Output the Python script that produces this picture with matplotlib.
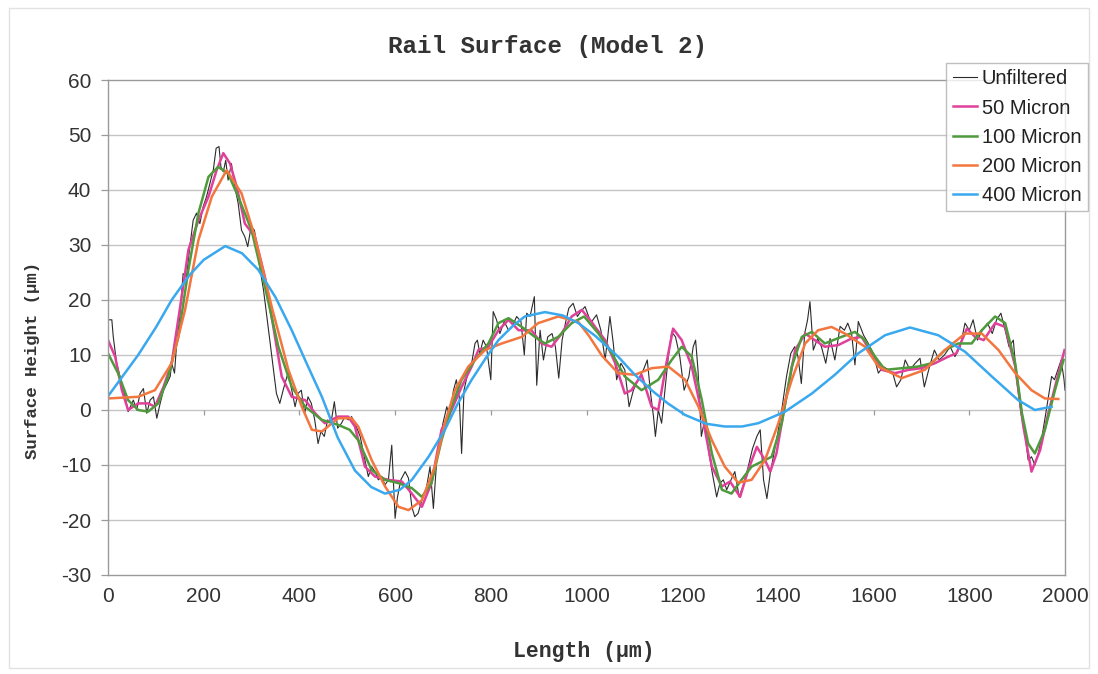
import matplotlib
matplotlib.use("Agg")
import matplotlib.pyplot as plt
from matplotlib.patches import Rectangle

plt.rcParams["axes.unicode_minus"] = False

# ---- measured profile data (Length in µm, height in µm) ----
raw_x = [0, 8, 11, 18, 25, 36, 42, 53, 60, 67, 74, 81, 88, 95, 102, 109, 116, 123, 130, 133,
         139, 143, 150, 157, 164, 171, 178, 185, 192, 199, 206, 213, 220, 226, 232, 236, 241, 246,
         251, 258, 265, 272, 279, 286, 292, 299, 306, 311, 318, 325, 332, 339, 345, 352, 359, 366,
         377, 384, 391, 397, 404, 411, 418, 425, 432, 439, 445, 452, 459, 466, 473, 480, 488, 495,
         502, 509, 516, 527, 537, 544, 551, 558, 565, 572, 579, 586, 593, 600, 605, 612, 621, 628,
         635, 641, 648, 656, 666, 673, 680, 687, 694, 700, 708, 714, 722, 728, 734, 739, 744, 752,
         760, 767, 772, 777, 784, 791, 800, 805, 812, 819, 828, 837, 845, 854, 863, 870, 875, 882,
         891, 896, 903, 910, 919, 928, 935, 942, 949, 956, 963, 972, 981, 988, 997, 1007, 1011,
         1021, 1030, 1039, 1049, 1056, 1063, 1072, 1080, 1089, 1098, 1108, 1119, 1127, 1134, 1140,
         1144, 1150, 1157, 1164, 1171, 1178, 1186, 1195, 1204, 1214, 1223, 1228, 1233, 1240, 1247,
         1256, 1263, 1272, 1279, 1286, 1293, 1302, 1310, 1319, 1328, 1338, 1347, 1356, 1363, 1370,
         1377, 1384, 1393, 1401, 1409, 1418, 1427, 1435, 1442, 1449, 1456, 1462, 1467, 1474, 1483,
         1491, 1500, 1509, 1519, 1530, 1539, 1546, 1554, 1561, 1568, 1579, 1589, 1599, 1610, 1620,
         1631, 1641, 1648, 1657, 1666, 1676, 1687, 1697, 1706, 1716, 1727, 1737, 1748, 1760, 1770,
         1781, 1791, 1800, 1808, 1817, 1827, 1838, 1848, 1857, 1866, 1875, 1883, 1892, 1899, 1908,
         1917, 1923, 1930, 1937, 1944, 1952, 1961, 1972, 1978, 1985, 1992, 1998, 2000]
raw_y = [16.4, 16.4, 13.3, 8.5, 6.1, 2.4, -0.3, 1.8, 0.0, 3.0, 3.9, -0.6, 1.8, 2.4, -1.5, 1.2, 3.6,
         4.8, 6.1, 8.5, 6.7, 11.5, 17.0, 24.8, 24.2, 29.7, 34.5, 35.8, 33.9, 37.0, 38.8, 41.2, 43.6,
         47.6, 47.9, 44.2, 43.3, 45.4, 41.8, 44.8, 40.6, 37.6, 32.7, 31.5, 29.7, 33.3, 32.7, 30.0,
         25.5, 21.8, 17.0, 12.1, 7.9, 3.0, 1.2, 3.6, 7.0, 3.6, 0.6, 3.0, 3.6, -0.6, 2.4, 1.2, -1.8,
         -6.1, -3.9, -4.8, -1.8, -2.4, 1.5, -3.3, -2.4, -1.2, -1.8, -1.2, -2.4, -4.8, -9.1, -12.1,
         -10.3, -11.2, -12.7, -12.1, -13.6, -12.7, -6.4, -19.7, -15.8, -12.7, -11.2, -12.4, -17.6,
         -19.4, -18.8, -16.4, -13.9, -10.3, -17.9, -9.1, -5.5, -2.4, 0.6, -1.2, 3.6, 5.5, 2.4, -7.9,
         3.6, 6.7, 8.5, 12.1, 12.7, 10.3, 12.7, 11.5, 5.5, 17.9, 16.4, 13.9, 16.1, 14.5, 15.2, 17.0,
         16.1, 10.0, 17.6, 17.0, 20.6, 4.5, 14.5, 9.1, 13.3, 13.9, 11.5, 5.8, 12.7, 15.8, 18.5, 19.4,
         17.0, 17.9, 18.8, 16.4, 16.1, 17.3, 14.5, 9.1, 17.0, 12.1, 5.5, 8.5, 7.3, 0.6, 3.6, 5.5, 7.3,
         9.1, 3.0, -1.2, -4.8, 0.0, -2.4, 3.6, 9.7, 14.2, 13.3, 9.7, 3.6, 6.1, 11.5, 12.7, 7.3, -4.8,
         -1.8, -7.9, -11.5, -15.8, -13.3, -12.7, -14.5, -12.7, -11.2, -15.8, -13.6, -10.3, -7.0,
         -4.8, -3.6, -12.7, -16.1, -11.5, -7.3, -3.6, 0.6, 6.1, 10.3, 11.5, 9.7, 4.8, 13.9, 16.4,
         19.7, 10.9, 13.0, 11.5, 8.5, 13.0, 9.1, 15.2, 14.5, 15.8, 13.9, 8.2, 16.1, 13.6, 12.1, 10.3,
         6.7, 7.9, 7.3, 6.4, 4.2, 5.5, 9.1, 7.3, 8.5, 9.4, 4.2, 7.6, 10.9, 9.1, 10.0, 11.5, 9.7, 11.5,
         15.8, 14.5, 16.4, 12.7, 14.5, 15.8, 13.9, 16.4, 17.6, 14.5, 11.5, 12.7, 5.5, -0.6, -4.8,
         -9.1, -8.5, -10.0, -7.9, -4.8, 0.0, 6.1, 5.5, 7.3, 9.1, 5.5, 3.6]

f50_x = [0, 15, 29, 42, 63, 84, 98, 116, 133, 154, 168, 189, 210, 227, 241, 255, 269, 286, 307,
         328, 349, 363, 384, 412, 433, 453, 481, 502, 516, 537, 558, 586, 614, 635, 656, 676, 697,
         718, 739, 760, 774, 795, 816, 837, 858, 885, 906, 927, 948, 969, 990, 1011, 1018, 1039,
         1060, 1080, 1094, 1115, 1136, 1150, 1167, 1181, 1199, 1220, 1241, 1262, 1283, 1300, 1321,
         1338, 1356, 1373, 1384, 1397, 1415, 1436, 1457, 1477, 1498, 1526, 1554, 1575, 1596, 1617,
         1645, 1673, 1700, 1728, 1756, 1773, 1795, 1812, 1830, 1854, 1875, 1896, 1913, 1930, 1948,
         1965, 1983, 1999]
f50_y = [12.7, 9.7, 3.6, 0.0, 1.2, 1.2, 0.6, 4.2, 8.5, 20.6, 29.1, 34.5, 38.8, 43.6, 46.7, 44.8,
         40.6, 33.9, 31.5, 24.2, 13.3, 6.1, 2.4, 1.8, -0.6, -2.4, -1.2, -1.2, -3.0, -10.3, -12.1,
         -12.7, -13.0, -15.2, -17.6, -13.3, -3.6, 0.0, 4.2, 7.9, 10.9, 11.5, 14.5, 16.4, 14.5, 14.5,
         12.1, 11.5, 13.9, 17.0, 18.2, 16.0, 15.1, 12.7, 8.5, 3.0, 3.6, 6.4, 0.6, 0.0, 8.5, 14.8,
         12.7, 7.9, -0.6, -10.3, -13.9, -13.0, -15.8, -10.9, -6.7, -9.1, -11.2, -7.9, 1.2, 10.9,
         13.9, 12.7, 11.5, 11.8, 13.0, 13.3, 10.3, 7.3, 6.7, 7.3, 7.6, 8.5, 9.7, 10.3, 14.8, 13.3,
         12.7, 15.8, 15.1, 7.9, -3.0, -11.2, -7.3, -0.6, 5.5, 10.9]

f100_x = [0, 21, 42, 63, 84, 105, 126, 147, 168, 189, 210, 230, 251, 272, 300, 328, 356, 384,
          412, 447, 481, 505, 523, 551, 579, 607, 635, 656, 676, 697, 718, 739, 767, 795, 816, 837,
          865, 892, 913, 941, 969, 995, 1025, 1053, 1080, 1115, 1150, 1178, 1199, 1220, 1241,
          1262, 1283, 1303, 1324, 1345, 1366, 1387, 1408, 1429, 1450, 1471, 1498, 1533, 1561,
          1582, 1603, 1624, 1659, 1693, 1721, 1749, 1777, 1805, 1826, 1854, 1875, 1896, 1910,
          1923, 1937, 1958, 1979, 1997]
f100_y = [10.3, 6.7, 1.8, 0.0, -0.3, 1.2, 6.1, 13.3, 25.5, 35.8, 42.4, 44.2, 43.0, 38.8, 32.7,
          22.4, 11.5, 4.2, 0.6, -1.8, -2.7, -3.6, -5.5, -10.9, -12.7, -13.3, -14.2, -15.8, -13.3,
          -5.5, 0.6, 5.5, 9.1, 12.1, 15.8, 16.7, 15.1, 13.3, 12.1, 13.3, 15.8, 17.0, 13.9, 10.3,
          6.1, 3.6, 5.5, 9.1, 11.5, 9.7, 1.8, -7.9, -14.5, -15.2, -12.7, -10.3, -9.4, -8.5, -2.4,
          7.9, 13.3, 14.2, 12.1, 13.3, 14.2, 12.7, 9.7, 7.3, 7.6, 7.9, 8.5, 10.9, 12.1, 12.1, 14.5,
          17.0, 15.8, 8.5, -0.6, -6.1, -7.9, -3.6, 3.6, 9.1]

f200_x = [0, 63, 98, 133, 161, 189, 217, 248, 279, 307, 342, 377, 405, 426, 447, 481, 509, 523,
          551, 579, 607, 628, 656, 683, 704, 725, 753, 788, 823, 865, 899, 941, 983, 1005, 1032,
          1066, 1101, 1136, 1171, 1206, 1234, 1262, 1289, 1317, 1345, 1373, 1401, 1429, 1457,
          1484, 1512, 1540, 1582, 1610, 1659, 1707, 1749, 1791, 1826, 1861, 1896, 1930, 1958, 1986]
f200_y = [2.1, 2.4, 3.6, 8.5, 18.2, 30.9, 38.8, 43.6, 39.4, 31.5, 18.8, 7.3, 0.6, -3.6, -3.9,
          -1.5, -1.5, -3.0, -9.1, -13.9, -17.6, -18.2, -16.4, -10.3, -2.4, 3.6, 7.9, 10.9, 12.1,
          13.3, 15.8, 17.0, 16.0, 13.5, 9.9, 6.7, 6.4, 7.6, 7.9, 5.5, 0.6, -5.5, -10.3, -13.2,
          -12.7, -9.1, -2.4, 5.5, 12.1, 14.5, 15.1, 13.9, 11.5, 7.9, 5.8, 7.3, 10.9, 13.9, 13.9,
          10.9, 6.7, 3.6, 2.1, 2.0]

f400_x = [0, 63, 100, 133, 170, 200, 245, 280, 314, 350, 384, 415, 447, 480, 516, 550, 579, 610,
          635, 670, 704, 730, 760, 790, 816, 845, 871, 913, 950, 983, 1018, 1066, 1100, 1136,
          1170, 1206, 1250, 1289, 1325, 1359, 1415, 1471, 1519, 1568, 1624, 1676, 1735, 1791,
          1847, 1902, 1937, 1972]
f400_y = [2.5, 10.0, 15.0, 20.0, 24.5, 27.3, 29.8, 28.5, 25.5, 20.5, 14.5, 8.5, 2.4, -5.0,
          -11.0, -14.0, -15.2, -14.5, -12.7, -8.5, -3.6, 1.0, 5.5, 9.5, 12.7, 15.2, 17.0, 17.8,
          17.2, 15.8, 13.5, 9.7, 6.5, 3.6, 1.2, -0.9, -2.5, -3.0, -3.0, -2.4, -0.3, 3.0, 6.4, 10.3,
          13.6, 15.0, 13.6, 10.6, 6.1, 1.8, 0.0, 0.6]

series_names = ["Unfiltered", "50 Micron", "100 Micron", "200 Micron", "400 Micron"]
series_colors = ["#2b2b2b", "#e0409a", "#4f9a3c", "#f3763f", "#3aa8ee"]

y_ticks = list(range(-30, 61, 10))
x_ticks = list(range(0, 2001, 200))

# ---- figure ----
fig = plt.figure(figsize=(10.98, 6.74), dpi=100)
fig.patch.set_facecolor("white")
ax = fig.add_axes([108 / 1098, 1 - 575 / 674, (1065 - 108) / 1098, (575 - 80) / 674])

# faint frame around the whole chart area
fig.patches.append(Rectangle((9 / 1098, 6 / 674), 1080 / 1098, 660 / 674,
                             transform=fig.transFigure, fill=False,
                             edgecolor="#e2e2e2", lw=1.0))

for yv in y_ticks[1:-1]:
    ax.axhline(yv, color="#c4c4c4", lw=1.0, zorder=0)

# category tick marks sitting on the zero line
ax.vlines(x_ticks[1:-1], -0.9, 0, color="#9a9a9a", lw=0.9, zorder=1)

xs = [raw_x, f50_x, f100_x, f200_x, f400_x]
ys = [raw_y, f50_y, f100_y, f200_y, f400_y]
widths = [0.8, 1.8, 1.8, 1.8, 1.8]
for x, y, name, c, w in zip(xs, ys, series_names, series_colors, widths):
    ax.plot(x, y, color=c, lw=w, label=name, solid_joinstyle="round", zorder=2)

ax.set_xlim(0, 2000)
ax.set_ylim(-30, 60)
ax.set_xticks(x_ticks)
ax.set_yticks(y_ticks)
ax.tick_params(axis="x", length=0, pad=9, labelsize=15, labelcolor="#333333")
ax.tick_params(axis="y", length=5, width=0.9, color="#9a9a9a", pad=7, labelsize=15,
               labelcolor="#333333")
for tl in ax.get_xticklabels() + ax.get_yticklabels():
    tl.set_fontfamily("Liberation Sans")
for s in ax.spines.values():
    s.set_color("#9a9a9a")
    s.set_linewidth(1.0)

mono = dict(family="Liberation Mono", weight="bold", color="#333333")
fig.text(548 / 1098, 1 - 47 / 674, "Rail Surface (Model 2)", ha="center", va="center",
         fontsize=17.5, **mono)
fig.text(584 / 1098, 1 - 651 / 674, "Length (µm)", ha="center", va="center",
         fontsize=15.5, **mono)
fig.text(33 / 1098, 1 - 360 / 674, "Surface Height (µm)", ha="center", va="center",
         rotation=90, fontsize=12.5, **mono)

leg = fig.legend(loc="upper right", bbox_to_anchor=(1088 / 1098, 1 - 63 / 674),
                 prop={"family": "Liberation Sans", "size": 14.5},
                 frameon=True, fancybox=False, handlelength=1.2, handletextpad=0.25,
                 labelspacing=0.5, borderpad=0.32, borderaxespad=0.0)
leg.get_frame().set_edgecolor("#b0b0b0")
leg.get_frame().set_linewidth(1.0)
for t in leg.get_texts():
    t.set_color("#222222")

fig.savefig("out.png", dpi=100, facecolor="white")
